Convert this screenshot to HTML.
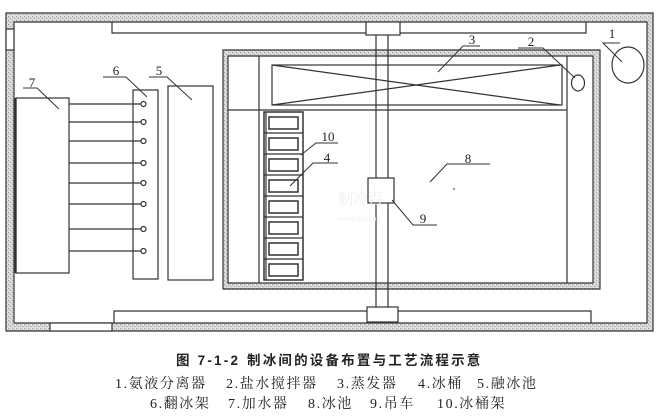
<!DOCTYPE html>
<html><head><meta charset="utf-8"><style>
html,body{margin:0;padding:0;background:#fff;}
svg{display:block;}
.t{font-family:"Liberation Serif","Noto Serif CJK SC",serif;font-size:13px;fill:#222;}
.c{font-family:"Liberation Serif","Noto Serif CJK SC","Noto Sans CJK SC",serif;font-size:14px;fill:#222;letter-spacing:1.6px;}
.b{font-family:"Liberation Sans","Noto Sans CJK SC",sans-serif;font-size:13.5px;font-weight:bold;fill:#222;letter-spacing:2.2px;}
</style></head><body>
<svg width="669" height="418" viewBox="0 0 669 418" xmlns="http://www.w3.org/2000/svg">
<defs>
<pattern id="h" width="4" height="4" patternUnits="userSpaceOnUse">
<rect width="4" height="4" fill="#d6d6d6"/>
<rect x="0" y="0" width="1" height="1" fill="#999"/>
<rect x="2" y="2" width="1" height="1" fill="#aaa"/>
<rect x="3" y="0" width="1" height="1" fill="#f0f0f0"/>
<rect x="1" y="3" width="1" height="1" fill="#eee"/>
</pattern>
</defs>
<rect width="669" height="418" fill="#fff"/>
<g stroke="#333" stroke-width="1.2" fill="none">
<path d="M6,13 H653 V331 H6 Z M14,22 V323 H647 V22 Z" fill="url(#h)" fill-rule="evenodd"/>
<rect x="6" y="29" width="8" height="21" fill="#fff"/>
<rect x="50" y="323" width="62" height="8" fill="#fff"/>
<path d="M112,22 V33 H586 V22"/>
<path d="M114,323 V311 H591 V323"/>
<path d="M223,50 H600 V289 H223 Z M228,56 V283 H593 V56 Z" fill="url(#h)" fill-rule="evenodd"/>
<line x1="259" y1="56" x2="259" y2="283"/>
<line x1="567" y1="56" x2="567" y2="283"/>
<line x1="228" y1="110" x2="567" y2="110"/>
<rect x="272" y="65" width="290" height="40"/>
<line x1="272" y1="65" x2="560" y2="105"/>
<line x1="272" y1="105" x2="560" y2="65"/>
<line x1="376" y1="35" x2="376" y2="307"/>
<line x1="388" y1="35" x2="388" y2="307"/>
<rect x="366" y="22" width="34" height="13" fill="#fff"/>
<rect x="367" y="307" width="31" height="15" fill="#fff"/>
<rect x="368" y="178" width="26" height="25" fill="#fff"/>
<rect x="264" y="112" width="39" height="168" stroke-width="1.5"/>
<line x1="266" y1="112" x2="266" y2="280"/>
<g>
<line x1="264" y1="133" x2="303" y2="133"/><line x1="264" y1="154" x2="303" y2="154"/>
<line x1="264" y1="175" x2="303" y2="175"/><line x1="264" y1="196" x2="303" y2="196"/>
<line x1="264" y1="217" x2="303" y2="217"/><line x1="264" y1="238" x2="303" y2="238"/>
<line x1="264" y1="259" x2="303" y2="259"/>
<rect x="269" y="117" width="29" height="12" stroke-width="1.5"/>
<rect x="269" y="138" width="29" height="12" stroke-width="1.5"/>
<rect x="269" y="159" width="29" height="12" stroke-width="1.5"/>
<rect x="269" y="180" width="29" height="12" stroke-width="1.5"/>
<rect x="269" y="201" width="29" height="12" stroke-width="1.5"/>
<rect x="269" y="222" width="29" height="12" stroke-width="1.5"/>
<rect x="269" y="243" width="29" height="12" stroke-width="1.5"/>
<rect x="269" y="264" width="29" height="12" stroke-width="1.5"/>
</g>
<ellipse cx="628" cy="65" rx="16" ry="18"/>
<ellipse cx="578" cy="83" rx="6.5" ry="8"/>
<rect x="16" y="98" width="53" height="175"/>
<line x1="15.5" y1="98" x2="15.5" y2="273" stroke-width="2.2"/>
<rect x="133" y="90" width="25" height="189"/>
<rect x="168" y="86" width="45" height="194"/>
<g>
<line x1="69" y1="104" x2="141" y2="104"/><circle cx="143.5" cy="104" r="2.5"/>
<line x1="69" y1="122" x2="141" y2="122"/><circle cx="143.5" cy="122" r="2.5"/>
<line x1="69" y1="141" x2="141" y2="141"/><circle cx="143.5" cy="141" r="2.5"/>
<line x1="69" y1="163" x2="141" y2="163"/><circle cx="143.5" cy="163" r="2.5"/>
<line x1="69" y1="183" x2="141" y2="183"/><circle cx="143.5" cy="183" r="2.5"/>
<line x1="69" y1="204" x2="141" y2="204"/><circle cx="143.5" cy="204" r="2.5"/>
<line x1="69" y1="229" x2="141" y2="229"/><circle cx="143.5" cy="229" r="2.5"/>
<line x1="69" y1="251" x2="141" y2="251"/><circle cx="143.5" cy="251" r="2.5"/>
</g>
<g stroke-width="1">
<polyline points="620,43 603,43 622,62"/>
<polyline points="518,48 543,48 575,78"/>
<polyline points="480,46 463,46 438,72"/>
<polyline points="338,163 313,163 290,186"/>
<polyline points="149,77 167,77 192,100"/>
<polyline points="103,77 126,77 147,97"/>
<polyline points="23,88 37,88 59,109"/>
<polyline points="490,164 447,164 430,182"/>
<polyline points="392,200 413,225 437,225"/>
<polyline points="338,143 316,143 301,155"/>
</g>
</g>
<circle cx="454" cy="189" r="0.9" fill="#555"/>
<text x="338" y="204" font-family="'Noto Sans CJK SC',sans-serif" font-size="15" fill="#f0f0f0">制冷百</text>
<text x="338" y="221" font-family="'Liberation Serif',serif" font-size="8" fill="#f0f0f0">www.zhileng</text>
<g class="t" text-anchor="middle">
<text x="612" y="38">1</text>
<text x="531" y="46">2</text>
<text x="472" y="44">3</text>
<text x="327" y="162">4</text>
<text x="159" y="75">5</text>
<text x="116" y="75">6</text>
<text x="32" y="87">7</text>
<text x="468" y="163">8</text>
<text x="423" y="223">9</text>
<text x="328" y="141">10</text>
</g>
<text class="b" x="176" y="365">图 7-1-2</text>
<text class="b" x="247" y="365">制冰间的设备布置与工艺流程示意</text>
<g class="c">
<text x="115" y="388">1.氨液分离器</text>
<text x="226" y="388">2.盐水搅拌器</text>
<text x="337" y="388">3.蒸发器</text>
<text x="418" y="388">4.冰桶</text>
<text x="477" y="388">5.融冰池</text>
<text x="150" y="408">6.翻冰架</text>
<text x="228" y="408">7.加水器</text>
<text x="308" y="408">8.冰池</text>
<text x="370" y="408">9.吊车</text>
<text x="437" y="408">10.冰桶架</text>
</g>
</svg>
</body></html>
